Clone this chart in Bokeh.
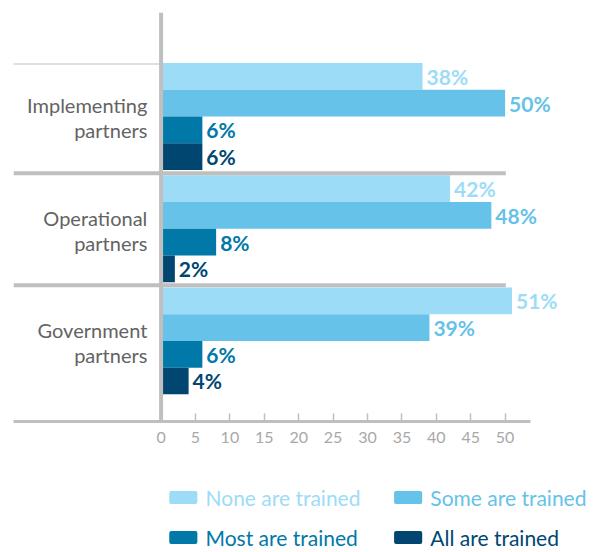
from bokeh.plotting import figure
from bokeh.models import Range1d, FixedTicker, Span, ColumnDataSource
from bokeh.layouts import column
from bokeh.core.properties import value
from bokeh.embed import file_html
from bokeh.resources import INLINE

# ---- data ----
groups = ["Implementing partners", "Operational partners", "Government partners"]
group_lines = [["Implementing", "partners"], ["Operational", "partners"], ["Government", "partners"]]
series = ["None are trained", "Some are trained", "Most are trained", "All are trained"]
values = {
    "None are trained": [38, 42, 51],
    "Some are trained": [50, 48, 39],
    "Most are trained": [6, 8, 6],
    "All are trained": [6, 2, 4],
}
colors = ["#9ddcf7", "#66c2e8", "#0078a8", "#004670"]
ticks = [0, 5, 10, 15, 20, 25, 30, 35, 40, 45, 50]

FONT = "Lato"
GRAY = "#bfbfbf"

W = 598
XL, XR = -21.45, 62.41
AX_END = 53.7
p = figure(width=W, height=461, output_backend="svg", toolbar_location=None,
           x_range=Range1d(XL, XR), y_range=Range1d(-0.718, 2.927),
           y_axis_location=None, min_border_left=13, min_border_right=8,
           min_border_top=12, min_border_bottom=40)
p.outline_line_color = None
p.xgrid.visible = False
p.ygrid.visible = False
p.background_fill_color = "white"
p.border_fill_color = "white"

centers = [2, 1, 0]  # group centres (top to bottom)
bar_h = 0.238
offsets = [1.5 * bar_h, 0.5 * bar_h, -0.5 * bar_h, -1.5 * bar_h]

for s, col, off in zip(series, colors, offsets):
    ys = [c + off for c in centers]
    vals = values[s]
    src = ColumnDataSource(dict(y=ys, v=vals, lab=[f"{v}%" for v in vals]))
    p.hbar(y="y", right="v", left=0, height=bar_h, source=src,
           fill_color=col, line_color=None)
    p.text(x="v", y="y", text="lab", source=src, x_offset=4,
           text_align="left", text_baseline="middle",
           text_font=value(FONT), text_font_style="bold",
           text_font_size="21px", text_color=col)

# separators
p.segment(x0=[XL, XL], x1=[50.1, 50.1], y0=[1.495, 0.497], y1=[1.495, 0.497],
          line_color=GRAY, line_width=4)
p.segment(x0=[XL], x1=[0], y0=[2.468], y1=[2.468], line_color=GRAY, line_width=1)

# category labels (two lines)
l1 = [ln[0] for ln in group_lines]
l2 = [ln[1] for ln in group_lines]
p.text(x=[-2.0] * 3, y=[c + 0.100 for c in centers], text=l1,
       text_align="right", text_baseline="alphabetic",
       text_font=value(FONT), text_font_size="20px", text_color="#636363")
p.text(x=[-2.0] * 3, y=[c - 0.123 for c in centers], text=l2,
       text_align="right", text_baseline="alphabetic",
       text_font=value(FONT), text_font_size="20px", text_color="#636363")

p.add_layout(Span(location=0, dimension="height", line_color=GRAY, line_width=4))

ax = p.xaxis[0]
ax.bounds = (XL, AX_END)
ax.ticker = FixedTicker(ticks=ticks)
ax.axis_line_color = GRAY
ax.axis_line_width = 3
ax.major_tick_in = 8
ax.major_tick_out = 0
ax.major_tick_line_color = GRAY
ax.major_tick_line_width = 1.5
ax.minor_tick_line_color = None
ax.major_label_standoff = 10
ax.major_label_text_font = FONT
ax.major_label_text_font_size = "16px"
ax.major_label_text_color = "#a8a8a8"

# ---- legend as its own small figure ----
LH = 91
q = figure(width=W, height=LH, output_backend="svg", toolbar_location=None,
           x_range=Range1d(0, W), y_range=Range1d(LH, 0),
           x_axis_type=None, y_axis_type=None, min_border=0)
q.outline_line_color = None
q.xgrid.visible = False
q.ygrid.visible = False

leg_x_sw = [176, 409, 176, 409]
leg_x_tx = [199, 432, 199, 432]
leg_y = [36, 36, 76, 76]
q.rect(x=leg_x_sw, y=leg_y, width=25, height=9, fill_color=colors, line_color=colors,
       line_width=4, line_join="round")
q.text(x=leg_x_tx, y=leg_y, text=series, text_color=colors,
       text_align="left", text_baseline="middle",
       text_font=value(FONT), text_font_size="21px")

layout = column(p, q, spacing=0)
open("out.html", "w").write(file_html(layout, INLINE))
